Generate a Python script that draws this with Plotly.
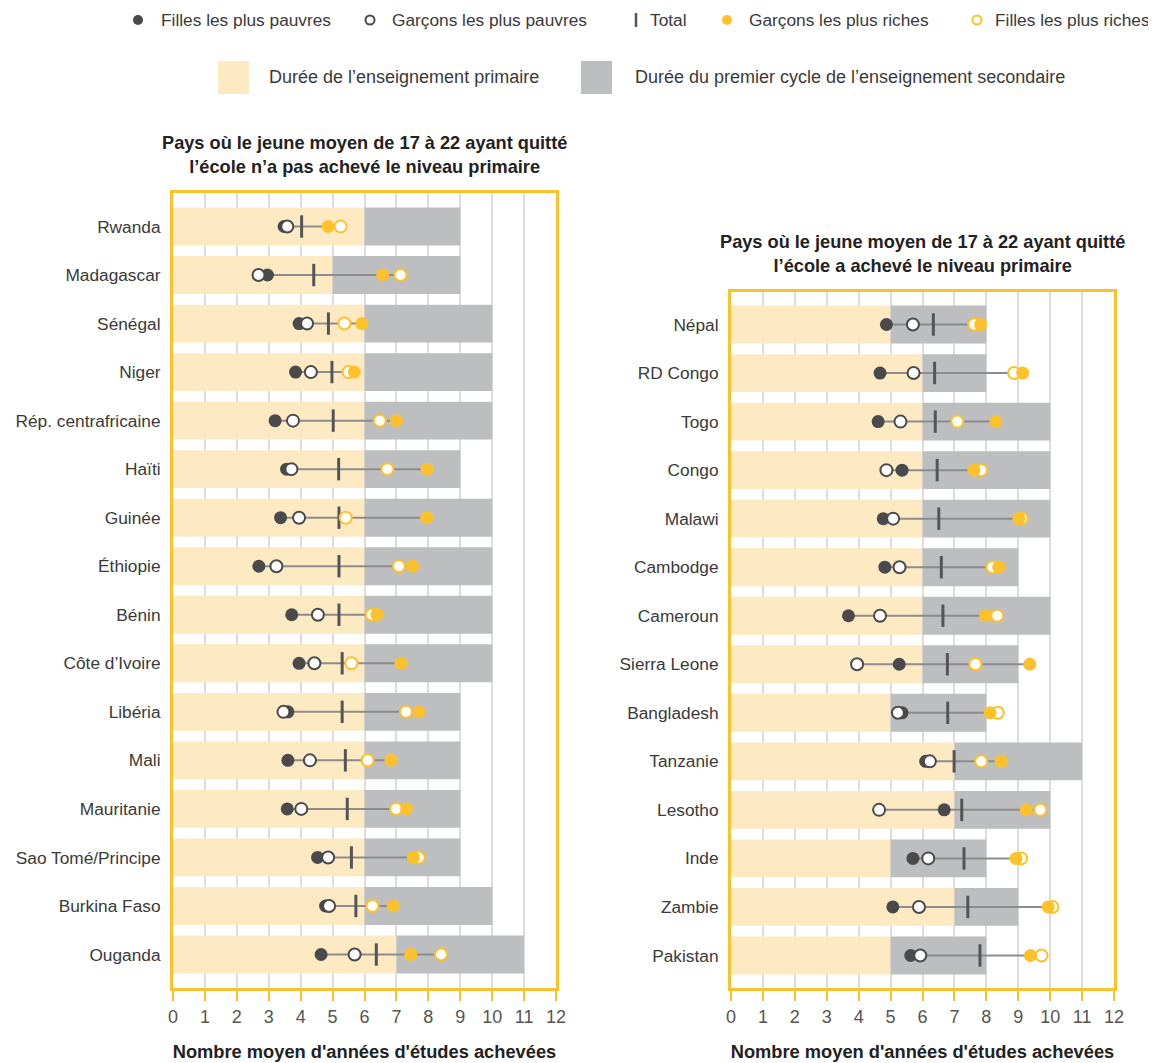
import plotly.graph_objects as go

# page body has an 8px margin: figure pixel = page pixel - 8
OFF = 8
W, H = 1156 - OFF, 1063 - OFF

# ---------------- data ----------------
countries_a = ["Rwanda", "Madagascar", "Sénégal", "Niger", "Rép. centrafricaine", "Haïti",
               "Guinée", "Éthiopie", "Bénin", "Côte d’Ivoire", "Libéria", "Mali",
               "Mauritanie", "Sao Tomé/Principe", "Burkina Faso", "Ouganda"]
primary_a = [6, 5, 6, 6, 6, 6, 6, 6, 6, 6, 6, 6, 6, 6, 6, 7]
lower_sec_a = [9, 9, 10, 10, 10, 9, 10, 10, 10, 10, 9, 9, 9, 9, 10, 11]
poor_girls_a = [3.48, 2.96, 3.95, 3.84, 3.20, 3.56, 3.37, 2.69, 3.72, 3.95, 3.60, 3.60, 3.58, 4.53, 4.78, 4.64]
poor_boys_a = [3.58, 2.68, 4.20, 4.32, 3.76, 3.71, 3.95, 3.24, 4.54, 4.43, 3.46, 4.29, 4.02, 4.86, 4.89, 5.69]
total_a = [4.03, 4.41, 4.87, 4.98, 5.02, 5.19, 5.20, 5.20, 5.20, 5.30, 5.30, 5.40, 5.46, 5.59, 5.73, 6.37]
rich_boys_a = [4.86, 6.57, 5.92, 5.68, 7.00, 7.96, 7.95, 7.51, 6.39, 7.14, 7.70, 6.83, 7.32, 7.53, 6.90, 7.45]
rich_girls_a = [5.25, 7.13, 5.37, 5.50, 6.48, 6.72, 5.41, 7.08, 6.23, 5.59, 7.30, 6.10, 6.99, 7.70, 6.25, 8.40]

countries_b = ["Népal", "RD Congo", "Togo", "Congo", "Malawi", "Cambodge", "Cameroun",
               "Sierra Leone", "Bangladesh", "Tanzanie", "Lesotho", "Inde", "Zambie", "Pakistan"]
primary_b = [5, 6, 6, 6, 6, 6, 6, 6, 5, 7, 7, 5, 7, 5]
lower_sec_b = [8, 8, 10, 10, 10, 9, 10, 9, 8, 11, 10, 8, 9, 8]
poor_girls_b = [4.87, 4.67, 4.61, 5.36, 4.77, 4.82, 3.68, 5.27, 5.36, 6.10, 6.68, 5.70, 5.07, 5.63]
poor_boys_b = [5.70, 5.72, 5.31, 4.87, 5.08, 5.28, 4.67, 3.95, 5.23, 6.23, 4.64, 6.18, 5.89, 5.93]
total_b = [6.34, 6.38, 6.40, 6.46, 6.51, 6.59, 6.64, 6.78, 6.79, 6.99, 7.23, 7.30, 7.42, 7.80]
rich_boys_b = [7.82, 9.14, 8.30, 7.61, 9.02, 8.39, 7.98, 9.36, 8.12, 8.46, 9.25, 8.93, 9.94, 9.38]
rich_girls_b = [7.62, 8.87, 7.09, 7.84, 9.11, 8.19, 8.34, 7.66, 8.36, 7.84, 9.69, 9.09, 10.07, 9.73]

x_ticks = list(range(0, 13))

title_a = "Pays où le jeune moyen de 17 à 22 ayant quitté<br>l’école n’a pas achevé le niveau primaire"
title_b = "Pays où le jeune moyen de 17 à 22 ayant quitté<br>l’école a achevé le niveau primaire"
x_title = "Nombre moyen d'années d'études achevées"
legend_labels = ["Filles les plus pauvres", "Garçons les plus pauvres", "Total",
                 "Garçons les plus riches", "Filles les plus riches"]
legend_bars = ["Durée de l’enseignement primaire",
               "Durée du premier cycle de l’enseignement secondaire"]

# ---------------- style ----------------
FONT = "Liberation Sans, Arial, sans-serif"
BEIGE = "#FDE9C2"
GREY = "#BDBEC0"
DARK = "#4A4A4C"
YEL = "#FDC22B"
LINE = "#8C8C8C"
TOT = "#555557"
FRAME = "#FCC22D"
TXT = "#3A3A3A"

fig = go.Figure()


def add_panel(xa, ya, cats, prim, sec, pg, pb, tot, rb, rg):
    n = len(cats)
    fig.add_trace(go.Bar(y=cats, x=prim, base=[0] * n, orientation="h", width=0.78,
                         marker=dict(color=BEIGE, line=dict(width=0)),
                         xaxis=xa, yaxis=ya, showlegend=False, hoverinfo="skip"))
    fig.add_trace(go.Bar(y=cats, x=[s - p for s, p in zip(sec, prim)], base=prim,
                         orientation="h", width=0.78,
                         marker=dict(color=GREY, line=dict(width=0)),
                         xaxis=xa, yaxis=ya, showlegend=False, hoverinfo="skip"))
    lx, ly = [], []
    for i, c in enumerate(cats):
        vals = [pg[i], pb[i], tot[i], rb[i], rg[i]]
        lx += [min(vals), max(vals), None]
        ly += [c, c, None]
    fig.add_trace(go.Scatter(x=lx, y=ly, mode="lines", line=dict(color=LINE, width=2),
                             xaxis=xa, yaxis=ya, showlegend=False, hoverinfo="skip"))
    fig.add_trace(go.Scatter(x=tot, y=cats, mode="markers",
                             marker=dict(symbol="line-ns", size=16,
                                         line=dict(color=TOT, width=3)),
                             xaxis=xa, yaxis=ya, showlegend=False, name="Total"))
    fig.add_trace(go.Scatter(x=pg, y=cats, mode="markers",
                             marker=dict(symbol="circle", size=13, color=DARK,
                                         line=dict(width=0)),
                             xaxis=xa, yaxis=ya, showlegend=False, name=legend_labels[0]))
    fig.add_trace(go.Scatter(x=pb, y=cats, mode="markers",
                             marker=dict(symbol="circle", size=12, color="white",
                                         line=dict(color=DARK, width=2)),
                             xaxis=xa, yaxis=ya, showlegend=False, name=legend_labels[1]))
    fig.add_trace(go.Scatter(x=rg, y=cats, mode="markers",
                             marker=dict(symbol="circle", size=12, color="white",
                                         line=dict(color=YEL, width=2)),
                             xaxis=xa, yaxis=ya, showlegend=False, name=legend_labels[4]))
    fig.add_trace(go.Scatter(x=rb, y=cats, mode="markers",
                             marker=dict(symbol="circle", size=13, color=YEL,
                                         line=dict(width=0)),
                             xaxis=xa, yaxis=ya, showlegend=False, name=legend_labels[3]))


add_panel("x", "y", countries_a, primary_a, lower_sec_a, poor_girls_a, poor_boys_a,
          total_a, rich_boys_a, rich_girls_a)
add_panel("x2", "y2", countries_b, primary_b, lower_sec_b, poor_girls_b, poor_boys_b,
          total_b, rich_boys_b, rich_girls_b)


def px_x(p):
    return (p - OFF) / W


def px_y(p):
    return 1 - (p - OFF) / H


xcommon = dict(range=[0, 12], tickvals=x_ticks, ticktext=[str(t) for t in x_ticks],
               showgrid=True, gridcolor="#DDDDDD", gridwidth=2, zeroline=False,
               showline=True, mirror=True, linecolor=FRAME, linewidth=3,
               ticks="outside", ticklen=10, tickwidth=2, tickcolor=FRAME,
               tickfont=dict(family=FONT, size=18, color="#555555"),
               title=dict(text="<b>" + x_title + "</b>", standoff=20,
                          font=dict(family=FONT, size=18.3, color="#222222")),
               automargin=False, fixedrange=True)
ycommon = dict(showgrid=False, zeroline=False, showline=True, mirror=True,
               linecolor=FRAME, linewidth=3, ticks="", ticklabelstandoff=6,
               tickfont=dict(family=FONT, size=17.3, color=TXT),
               automargin=False, fixedrange=True, type="category")

fig.update_layout(
    width=W, height=H, template="none",
    margin=dict(l=0, r=0, t=0, b=0),
    paper_bgcolor="white", plot_bgcolor="white",
    barmode="overlay", showlegend=False,
    xaxis=dict(domain=[px_x(173), px_x(556)], anchor="y", **xcommon),
    yaxis=dict(domain=[px_y(988), px_y(193)], anchor="x",
               categoryorder="array", categoryarray=countries_a,
               range=[len(countries_a) - 1 + 0.69, -0.69], **ycommon),
    xaxis2=dict(domain=[px_x(731), px_x(1114)], anchor="y2", **xcommon),
    yaxis2=dict(domain=[px_y(988), px_y(292)], anchor="x2",
                categoryorder="array", categoryarray=countries_b,
                range=[len(countries_b) - 1 + 0.67, -0.67], **ycommon),
    font=dict(family=FONT, color=TXT),
)

annotations = []
shapes = []

# panel titles
annotations.append(dict(text="<b>" + title_a + "</b>", x=px_x(364.5), y=px_y(155),
                        xref="paper", yref="paper", xanchor="center", yanchor="middle",
                        showarrow=False, font=dict(family=FONT, size=18.2, color="#222222")))
annotations.append(dict(text="<b>" + title_b + "</b>", x=px_x(922.5), y=px_y(254),
                        xref="paper", yref="paper", xanchor="center", yanchor="middle",
                        showarrow=False, font=dict(family=FONT, size=18.2, color="#222222")))

# legend row 1
ly1 = 20
r = 5
shapes.append(dict(type="circle", xref="paper", yref="paper",
                   x0=px_x(138 - r), x1=px_x(138 + r), y0=px_y(ly1 + r), y1=px_y(ly1 - r),
                   fillcolor=DARK, line=dict(width=0)))
shapes.append(dict(type="circle", xref="paper", yref="paper",
                   x0=px_x(370 - 4.5), x1=px_x(370 + 4.5), y0=px_y(ly1 + 4.5), y1=px_y(ly1 - 4.5),
                   fillcolor="white", line=dict(color=DARK, width=2)))
shapes.append(dict(type="line", xref="paper", yref="paper",
                   x0=px_x(636), x1=px_x(636), y0=px_y(ly1 + 7), y1=px_y(ly1 - 7),
                   line=dict(color=TOT, width=2.5)))
shapes.append(dict(type="circle", xref="paper", yref="paper",
                   x0=px_x(727 - r), x1=px_x(727 + r), y0=px_y(ly1 + r), y1=px_y(ly1 - r),
                   fillcolor=YEL, line=dict(width=0)))
shapes.append(dict(type="circle", xref="paper", yref="paper",
                   x0=px_x(977 - 4.5), x1=px_x(977 + 4.5), y0=px_y(ly1 + 4.5), y1=px_y(ly1 - 4.5),
                   fillcolor="white", line=dict(color=YEL, width=2)))
for label, xs in zip(legend_labels, [159, 390, 648, 747, 993]):
    annotations.append(dict(text=label, x=px_x(xs), y=px_y(ly1), xref="paper", yref="paper",
                            xanchor="left", yanchor="middle", showarrow=False,
                            font=dict(family=FONT, size=17.3, color=TXT)))

# legend row 2
ly2 = 77
shapes.append(dict(type="rect", xref="paper", yref="paper",
                   x0=px_x(218), x1=px_x(249), y0=px_y(94), y1=px_y(61),
                   fillcolor=BEIGE, line=dict(width=0)))
shapes.append(dict(type="rect", xref="paper", yref="paper",
                   x0=px_x(581), x1=px_x(612), y0=px_y(94), y1=px_y(61),
                   fillcolor=GREY, line=dict(width=0)))
for label, xs in zip(legend_bars, [267, 633]):
    annotations.append(dict(text=label, x=px_x(xs), y=px_y(ly2), xref="paper", yref="paper",
                            xanchor="left", yanchor="middle", showarrow=False,
                            font=dict(family=FONT, size=18, color=TXT)))

fig.update_layout(annotations=annotations, shapes=shapes)

fig.write_html("out.html")
